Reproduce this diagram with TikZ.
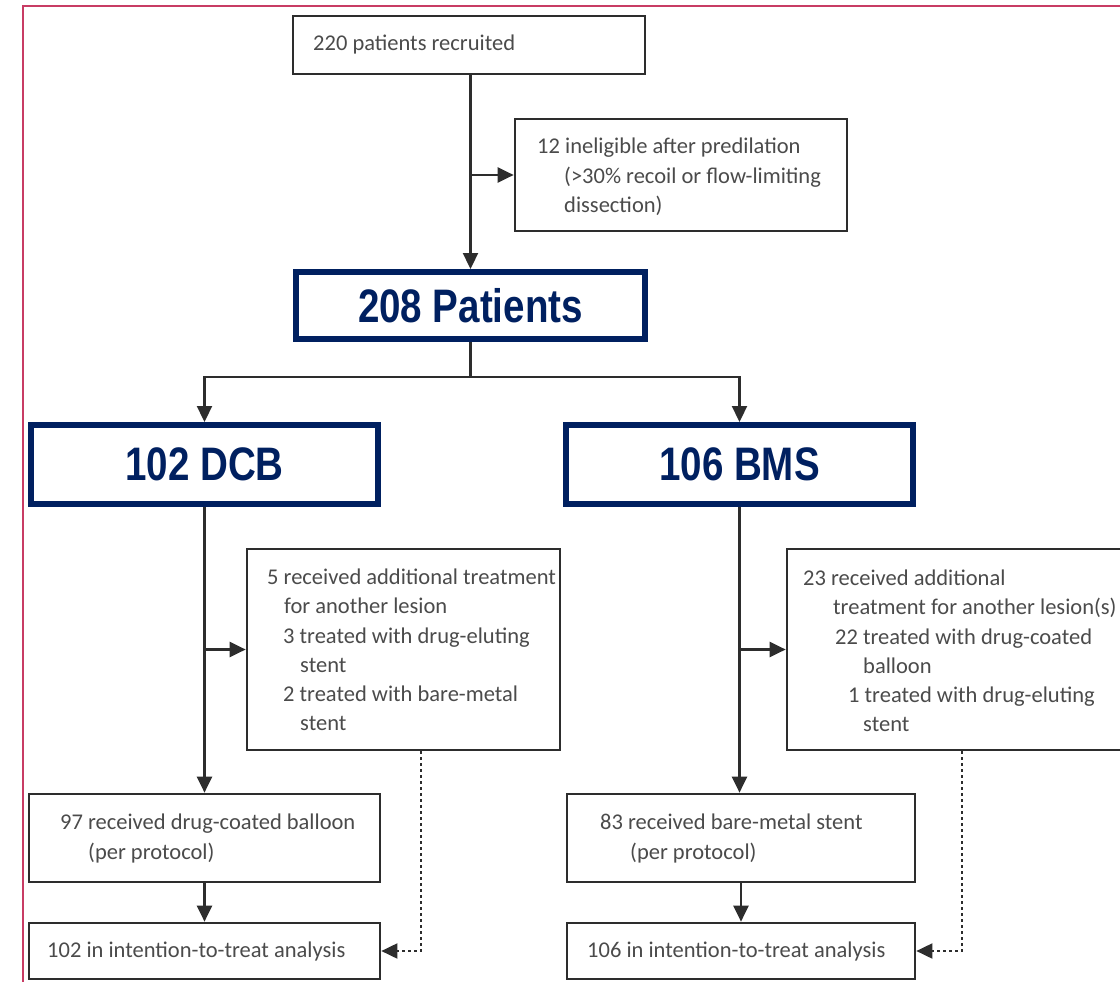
\documentclass[tikz,border=0pt]{standalone}
\usepackage{fontspec}
\setmainfont{Carlito}
\newfontfamily\boldsans{Liberation Sans}
\usetikzlibrary{arrows.meta}
\definecolor{navy}{RGB}{0,32,96}
\definecolor{framecol}{RGB}{200,60,100}
\definecolor{boxline}{RGB}{45,45,45}
\definecolor{txtcol}{RGB}{75,75,75}
\pgfdeclarelayer{bg}
\pgfsetlayers{bg,main}
\begin{document}
\begin{tikzpicture}[x=1pt,y=-1pt,
  gbox/.style={draw=boxline,line width=2.7pt,fill=white,inner sep=0pt},
  nbox/.style={draw=navy,line width=6pt,fill=white,inner sep=0pt,text=navy,
    font=\boldsans\bfseries\fontsize{47}{50}\selectfont},
  txt/.style={inner sep=0pt,align=left,text=txtcol,anchor=west,
    font=\fontsize{22.5}{29.3}\selectfont},
  conn/.style={draw=boxline,line width=2.3pt},
  dotconn/.style={draw=boxline,line width=1.9pt,dash pattern=on 3pt off 3pt},
  tip/.style={-{Triangle[length=16pt,width=15pt]}}
]
\useasboundingbox (0,0) rectangle (1120,982);
\clip (0,0) rectangle (1120,982);

% boxes
\node[gbox,minimum width=352,minimum height=58] (b1) at (469,45) {};
\node[gbox,minimum width=332,minimum height=112] (b2) at (681,175) {};
\node[nbox,minimum width=349,minimum height=67] (p208) at (470.5,305.5) {\raisebox{-3pt}{\scalebox{0.82}[1]{208 Patients}}};
\node[nbox,minimum width=347,minimum height=79] (dcb) at (204.5,464.5) {\scalebox{0.82}[1]{102 DCB}};
\node[nbox,minimum width=347,minimum height=79] (bms) at (739.5,464.5) {\scalebox{0.82}[1]{106 BMS}};
\node[gbox,minimum width=313,minimum height=201] (b5) at (403.5,649.5) {};
\node[gbox,minimum width=347,minimum height=201] (b23) at (960.5,649.5) {};
\node[gbox,minimum width=351,minimum height=88] (b97) at (204.5,838) {};
\node[gbox,minimum width=348,minimum height=88] (b83) at (741,838) {};
\node[gbox,minimum width=351,minimum height=56] (itt1) at (204.5,951) {};
\node[gbox,minimum width=348,minimum height=56] (itt2) at (741,951) {};

% texts
\node[txt] (t1) at (313,45) {220 patients recruited};
\node[txt] (t2) at (537,177) {12 ineligible after predilation\\\hspace*{27pt}(>30\% recoil or flow-limiting\\\hspace*{27pt}dissection)};
\node[txt] (t5) at (267,650) {5 received additional treatment\\\hspace*{17pt}for another lesion\\\hspace*{16pt}3 treated with drug-eluting\\\hspace*{33pt}stent\\\hspace*{16pt}2 treated with bare-metal\\\hspace*{33pt}stent};
\node[txt] (t23) at (803,651) {23 received additional\\\hspace*{30pt}treatment for another lesion(s)\\\hspace*{32pt}22 treated with drug-coated\\\hspace*{60pt}balloon\\\hspace*{45pt}1 treated with drug-eluting\\\hspace*{60pt}stent};
\node[txt] (t97) at (60,838.5) {97 received drug-coated balloon\\\hspace*{28pt}(per protocol)};
\node[txt] (t83) at (600,838.5) {83 received bare-metal stent\\\hspace*{30pt}(per protocol)};
\node[txt] (ti1) at (47,951) {102 in intention-to-treat analysis};
\node[txt] (ti2) at (587,951) {106 in intention-to-treat analysis};

% connectors and frame
\begin{pgfonlayer}{bg}
\fill[white] (0,0) rectangle (1120,982);
\draw[framecol,line width=2pt] (22.5,995) -- (22.5,6.5) -- (1130,6.5);
\draw[conn,tip] (p208.north |- b1.south) -- (p208.north);
\draw[conn,tip] (p208.north |- b2.west) -- (b2.west);
\coordinate (split) at (470.5,377);
\draw[conn] (p208.south) -- (split);
\draw[conn,tip] (split) -| (dcb.north);
\draw[conn,tip] (split) -| (bms.north);
\draw[conn,tip] (dcb.south) -- (dcb.south |- b97.north);
\draw[conn,tip] (dcb.south |- b5.west) -- (b5.west);
\draw[conn,tip] (b97.south) -- (itt1.north);
\draw[conn,tip] (bms.south) -- (bms.south |- b83.north);
\draw[conn,tip] (bms.south |- b23.west) -- (b23.west);
\draw[conn,tip] (b83.south) -- (itt2.north);
\draw[dotconn,tip] ([xshift=17.5pt]b5.south) |- (itt1.east);
\draw[dotconn,tip] ([xshift=1.5pt]b23.south) |- (itt2.east);
\end{pgfonlayer}
\end{tikzpicture}
\end{document}
